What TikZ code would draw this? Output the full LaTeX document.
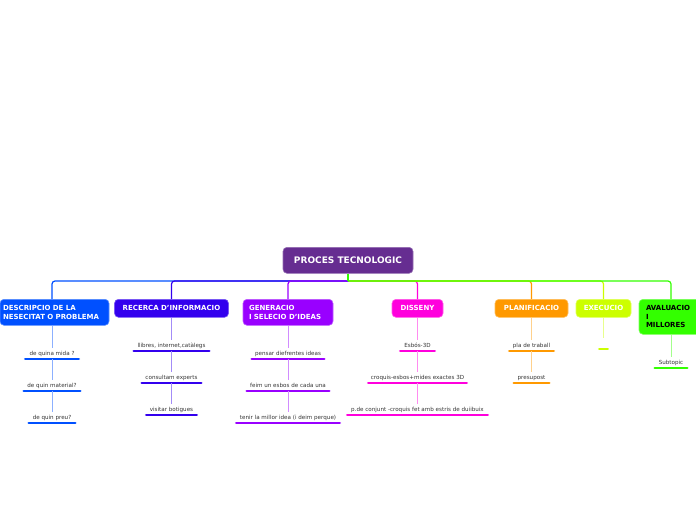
\documentclass[tikz,border=0pt]{standalone}
\usepackage{fontspec}
\setmainfont{DejaVu Sans}
\definecolor{cRoot}{HTML}{662D91}
\definecolor{cDesc}{HTML}{0050FF}
\definecolor{cRec}{HTML}{3300EE}
\definecolor{cGen}{HTML}{9900FF}
\definecolor{cDis}{HTML}{FF00DD}
\definecolor{cPla}{HTML}{FF9900}
\definecolor{cExe}{HTML}{CCFF00}
\definecolor{cAva}{HTML}{33FF00}
\definecolor{cTxt}{HTML}{333333}
\tikzset{
  rootbox/.style={rounded corners=4pt, fill=cRoot, draw=cRoot!70!white, line width=0.6pt,
    text=white, font=\bfseries\fontsize{9}{10}\selectfont, anchor=north,
    minimum width=130pt, minimum height=26pt},
  topic/.style={rounded corners=4pt, fill=#1, draw=#1!65!white, line width=0.6pt,
    text=white, font=\bfseries\fontsize{7}{8.8}\selectfont, anchor=north, inner ysep=2pt},
  sub/.style={font=\fontsize{5.6}{6.4}\selectfont, text=cTxt, text height=4.2pt, text depth=1.2pt,
    inner xsep=0pt, inner ysep=2.4pt, anchor=south},
  uline/.style={draw=#1, line width=2.8pt, line cap=round},
  branch/.style={draw=#1, line width=1.2pt, rounded corners=3pt},
  twig/.style={draw=#1!45!white, line width=1pt}
}
\begin{document}
\begin{tikzpicture}[x=1pt,y=-1pt]
\useasboundingbox (0,0) rectangle (696,520);
% root
\node[rootbox] (root) at (348,247) {PROCES TECNOLOGIC};
\coordinate (hub) at (348,281);
% main topics
\node[topic=cDesc, text width=103pt, align=left, inner xsep=3pt, minimum height=26pt] (t1) at (54.5,299) {DESCRIPCIO DE LA\\NESECITAT O PROBLEMA};
\node[topic=cRec, minimum width=114pt, minimum height=18pt] (t2) at (171.5,299) {RECERCA D'INFORMACIO};
\node[topic=cGen, text width=78pt, align=left, inner xsep=6pt, minimum height=26pt] (t3) at (288,299) {GENERACIO\\I SELECIO D'IDEAS};
\node[topic=cDis, minimum width=51pt, minimum height=18pt] (t4) at (417.5,299) {DISSENY};
\node[topic=cPla, minimum width=73pt, minimum height=18pt] (t5) at (531.5,299) {PLANIFICACIO};
\node[topic=cExe, minimum width=55pt, minimum height=18pt] (t6) at (603.5,299) {EXECUCIO};
\node[topic=cAva, text=black, text width=50pt, align=left, inner xsep=7pt, minimum height=35pt, font=\bfseries\fontsize{7}{8.6}\selectfont] (t7) at (671,299) {AVALUACIO\\I\\MILLORES};
% subtopics: DESCRIPCIO
\node[sub, minimum width=53pt] (s11) at (52,359) {de quina mida ?};
\node[sub, minimum width=56pt] (s12) at (52,391) {de quin material?};
\node[sub, minimum width=46pt] (s13) at (52,423) {de quin preu?};
% RECERCA
\node[sub, minimum width=75pt] (s21) at (171.5,351) {llibres, internet,catàlegs};
\node[sub, minimum width=59pt] (s22) at (171.5,383) {consultam experts};
\node[sub, minimum width=50pt] (s23) at (171.5,415) {visitar botigues};
% GENERACIO
\node[sub, minimum width=72pt] (s31) at (288,359) {pensar diefrentes ideas};
\node[sub, minimum width=82pt] (s32) at (288,391) {feim un esbos de cada una};
\node[sub, minimum width=103pt] (s33) at (288,423) {tenir la millor idea (i deim perque)};
% DISSENY
\node[sub, minimum width=34pt] (s41) at (417.5,351) {Esbós-3D};
\node[sub, minimum width=98pt] (s42) at (417.5,383) {croquis-esbos+mides exactes 3D};
\node[sub, minimum width=140pt] (s43) at (417.5,415) {p.de conjunt -croquis fet amb estris de duiibuix};
% PLANIFICACIO
\node[sub, minimum width=44pt] (s51) at (531.5,351) {pla de traball};
\node[sub, minimum width=35pt] (s52) at (531.5,383) {presupost};
% EXECUCIO
\node[sub, minimum width=8pt] (s61) at (603.5,349) {};
% AVALUACIO
\node[sub, minimum width=32pt] (s71) at (671,368) {Subtopic};
% branches
\draw[branch=cDis] (hub) -| (t4.north);
\draw[branch=cPla] (hub) -| (t5.north);
\draw[branch=cExe] (hub) -| (t6.north);
\draw[branch=cDesc] (hub) -| (s11.north |- t1.north);
\draw[branch=cRec] (hub) -| (t2.north);
\draw[branch=cGen] (hub) -| (t3.north);
\draw[branch=cAva] (hub) -| (t7.north);
\draw[branch=cAva] (root.south) -- (hub);
% underlines
\foreach \n/\c in {s11/cDesc,s12/cDesc,s13/cDesc,s21/cRec,s22/cRec,s23/cRec,
  s31/cGen,s32/cGen,s33/cGen,s41/cDis,s42/cDis,s43/cDis,s51/cPla,s52/cPla,s61/cExe,s71/cAva}
  {\draw[uline=\c] (\n.south west) -- (\n.south east);}
% twigs
\draw[twig=cDesc] (t1.south -| s11.north) -- (s11.north) (s11.south) -- (s12.north) (s12.south) -- (s13.north);
\draw[twig=cRec] (t2.south) -- (s21.north) (s21.south) -- (s22.north) (s22.south) -- (s23.north);
\draw[twig=cGen] (t3.south) -- (s31.north) (s31.south) -- (s32.north) (s32.south) -- (s33.north);
\draw[twig=cDis] (t4.south) -- (s41.north) (s41.south) -- (s42.north) (s42.south) -- (s43.north);
\draw[twig=cPla] (t5.south) -- (s51.north) (s51.south) -- (s52.north);
\draw[twig=cExe] (t6.south) -- (s61.north);
\draw[twig=cAva] (t7.south) -- (s71.north);
\end{tikzpicture}
\end{document}
